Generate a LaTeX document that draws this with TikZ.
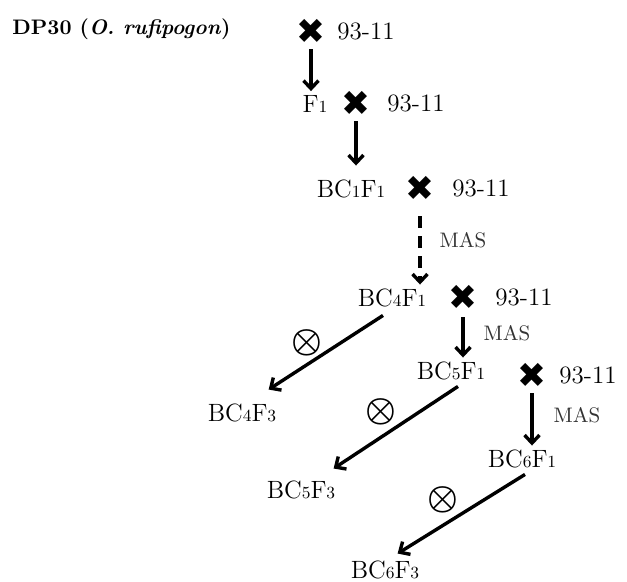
\documentclass[tikz,border=0pt]{standalone}
\usepackage{fontspec}
\usetikzlibrary{arrows.meta}
\newfontfamily\symfont{DejaVu Sans}
\newcommand{\sn}[1]{{\fontsize{8.5}{10}\selectfont #1}}

\begin{document}
\begin{tikzpicture}[x=0.5pt, y=-0.5pt, font=\fontsize{12.5}{15}\selectfont,
    >={Straight Barb[length=4pt, width=7.5pt]},
    gen/.style={inner sep=2pt},
    parent/.style={inner sep=2pt, anchor=west},
    cross/.style={font=\symfont\LARGE, inner sep=1pt},
    mas/.style={font=\fontsize{10.5}{12}\selectfont, text=black!80, inner sep=1pt},
    self/.style={font=\LARGE\boldmath, inner sep=0pt},
    arr/.style={->, line width=1.7pt}]

    \useasboundingbox (0,0) rectangle (627,582);

    \node[parent, font=\fontsize{10.5}{12}\selectfont\bfseries] (dp) at (8,29) {DP30 (\textit{O. rufipogon})};
    \node[cross] (x1) at (311,31) {✖};
    \node[parent] (p1) at (333,31) {93-11};

    \node[gen] (f1) at (315,104) {F\sn{1}};
    \node[cross] (x2) at (356,103) {✖};
    \node[parent] (p2) at (383,103) {93-11};

    \node[gen] (bc1f1) at (351,189) {BC\sn{1}F\sn{1}};
    \node[cross] (x3) at (420,188) {✖};
    \node[parent] (p3) at (448,188) {93-11};
    \node[mas] (mas1) at (463,240) {MAS};

    \node[gen] (bc4f1) at (392,298) {BC\sn{4}F\sn{1}};
    \node[cross] (x4) at (463,297) {✖};
    \node[parent] (p4) at (491,297) {93-11};
    \node[mas] (mas2) at (507,333) {MAS};
    \node[self] (s1) at (307,343) {$\otimes$};
    \node[gen] (bc4f3) at (242,413) {BC\sn{4}F\sn{3}};

    \node[gen] (bc5f1) at (451,371) {BC\sn{5}F\sn{1}};
    \node[cross] (x5) at (532,375) {✖};
    \node[parent] (p5) at (555,375) {93-11};
    \node[mas] (mas3) at (577,415) {MAS};
    \node[self] (s2) at (381,412) {$\otimes$};
    \node[gen] (bc5f3) at (301,490) {BC\sn{5}F\sn{3}};

    \node[gen] (bc6f1) at (522,459) {BC\sn{6}F\sn{1}};
    \node[self] (s3) at (443,500) {$\otimes$};
    \node[gen] (bc6f3) at (385,570) {BC\sn{6}F\sn{3}};

    % backcross line
    \draw[arr, shorten <=2pt] (x1.south) -- (x1.south |- f1.north);
    \draw[arr, shorten <=2pt, shorten >=5pt] (x2.south) -- (x2.south |- bc1f1.north);
    \draw[arr, dash pattern=on 6pt off 4pt, shorten <=7pt] (x3.south) -- (x3.south |- bc4f1.north);
    \draw[arr, shorten <=3pt] (x4.south) -- (x4.south |- bc5f1.north);
    \draw[arr, shorten <=2pt] (x5.south) -- (x5.south |- bc6f1.north);

    % selfing
    \draw[arr] ([xshift=-4.5pt,yshift=-2pt]bc4f1.south) -- ([xshift=-6pt,yshift=5pt]bc4f3.north east);
    \draw[arr] ([xshift=3.5pt,yshift=-1pt]bc5f1.south) -- ([xshift=-3pt,yshift=4pt]bc5f3.north east);
    \draw[arr] ([xshift=1.5pt,yshift=-1pt]bc6f1.south) -- ([xshift=-13pt,yshift=1.5pt]bc6f3.north east);
\end{tikzpicture}
\end{document}
